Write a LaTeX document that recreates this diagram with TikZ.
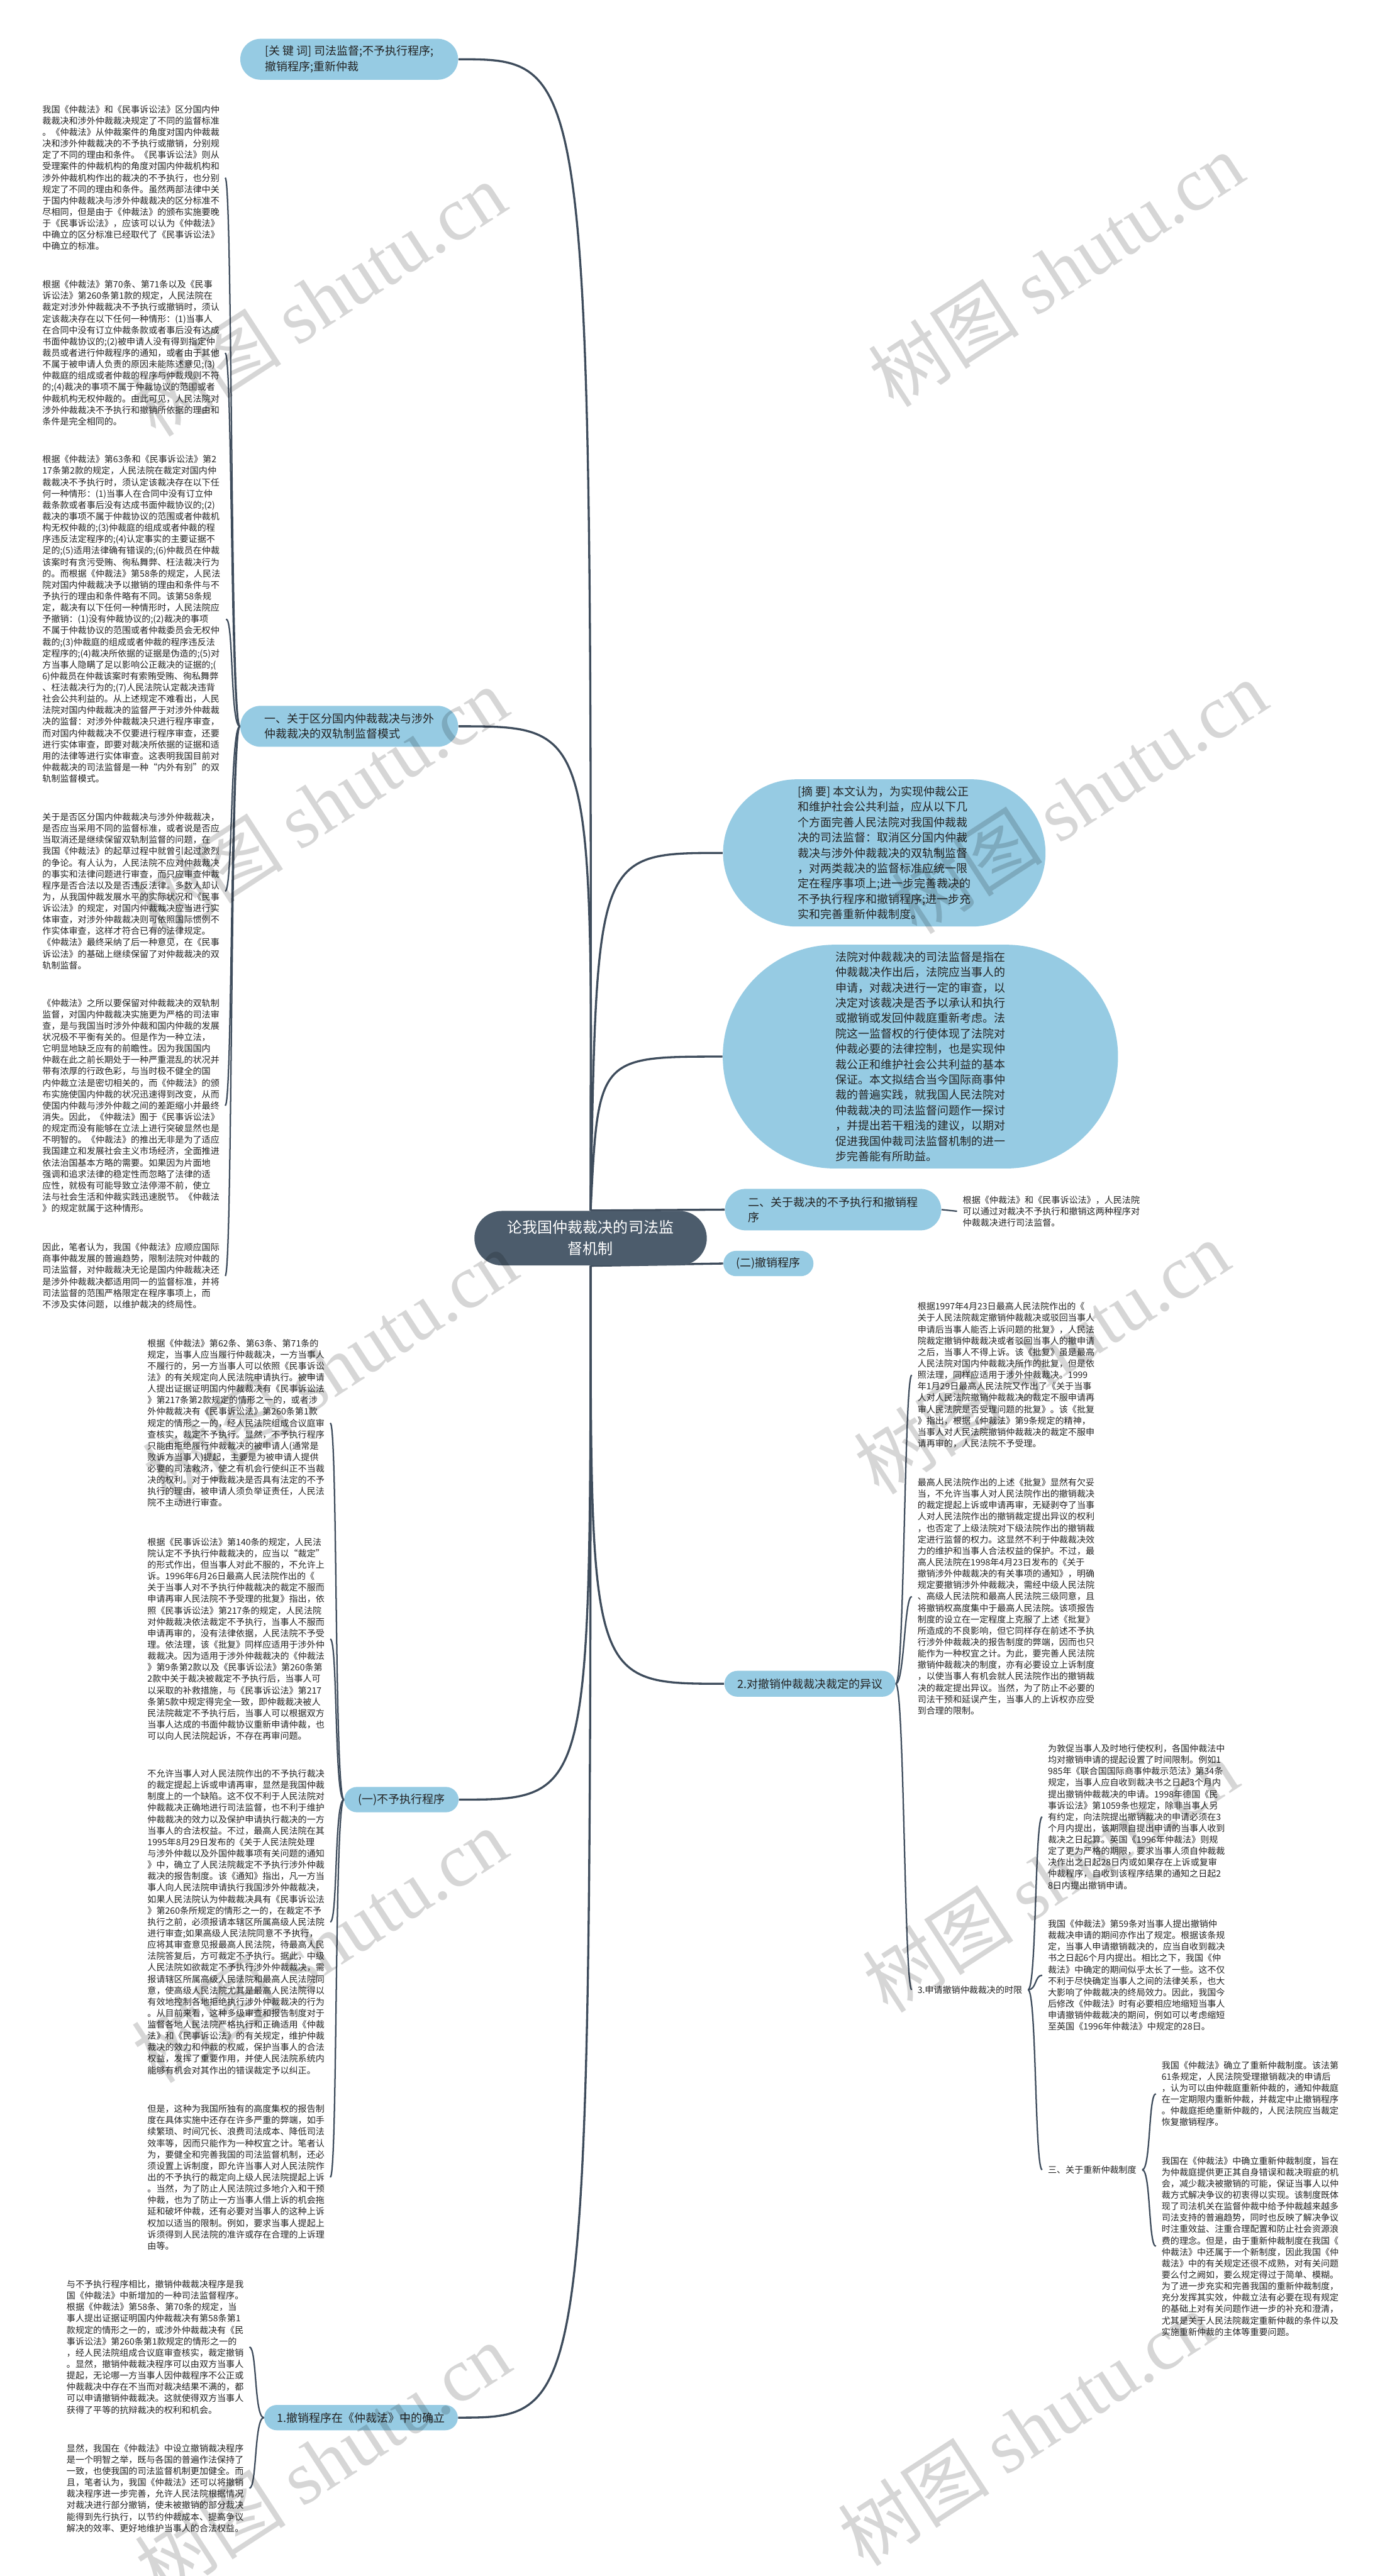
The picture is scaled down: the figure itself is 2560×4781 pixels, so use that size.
\documentclass[tikz,border=0pt]{standalone}
\usepackage{fontspec}
\setmainfont{Noto Sans CJK SC}
\newfontfamily\wmlatin{Liberation Serif}
\usetikzlibrary{shapes.misc,backgrounds}
\definecolor{nodeblue}{RGB}{150,203,227}
\definecolor{rootcol}{RGB}{76,92,108}
\definecolor{linecol}{RGB}{62,76,92}
\definecolor{txtcol}{RGB}{35,35,35}
\newcommand\leaffont{\fontsize{4.67pt}{6.02pt}\selectfont}
\newcommand\topicfont{\fontsize{5.97pt}{8.1pt}\selectfont}
\newcommand\rootfont{\fontsize{7.97pt}{11.3pt}\selectfont}
\newcommand\wmfont{\fontsize{40pt}{44pt}\selectfont}
\tikzset{
  leaf/.style={font=\leaffont, align=left, inner xsep=0.1cm, inner ysep=0pt, text=txtcol},
  plainnode/.style={font=\leaffont, inner xsep=0.1cm, inner ysep=0pt, text=txtcol},
  topic/.style={rounded rectangle, fill=nodeblue, font=\topicfont, align=left, text=txtcol, inner xsep=0pt, inner ysep=0pt},
  rootbox/.style={rounded rectangle, fill=rootcol, font=\rootfont, align=center, text=white, inner sep=0pt},
  conn/.style={draw=linecol, line width=0.75pt},
  rconn/.style={draw=linecol, line width=1.1pt},
  wm/.style={font=\wmfont, text=black, opacity=0.16, rotate=33, inner sep=0pt},
}
\begin{document}
\begin{tikzpicture}[x=0.01cm,y=-0.01cm]
\begin{scope}[on background layer]
\fill[white] (0,0) rectangle (2560,4781);
\end{scope}
\useasboundingbox (0,0) rectangle (2560,4781);

% ---------- root and topic nodes ----------
\node[rootbox, minimum width=4.31cm, minimum height=1.01cm] (root) at (1096,2298) {论我国仲裁裁决的司法监\\督机制};
\node[topic, minimum width=4.04cm, minimum height=0.76cm] (kw) at (648,110) {[关 键 词] 司法监督;不予执行程序;\\撤销程序;重新仲裁};
\node[topic, minimum width=4.04cm, minimum height=0.76cm] (n1) at (648,1348) {一、关于区分国内仲裁裁决与涉外\\仲裁裁决的双轨制监督模式};
\node[topic, minimum width=5.98cm, minimum height=2.73cm] (ab) at (1641,1583) {[摘 要] 本文认为，为实现仲裁公正\\和维护社会公共利益，应从以下几\\个方面完善人民法院对我国仲裁裁\\决的司法监督：取消区分国内仲裁\\裁决与涉外仲裁裁决的双轨制监督\\，对两类裁决的监督标准应统一限\\定在程序事项上;进一步完善裁决的\\不予执行程序和撤销程序;进一步充\\实和完善重新仲裁制度。};
\node[topic, minimum width=7.33cm, minimum height=4.15cm] (intro) at (1708,1961) {法院对仲裁裁决的司法监督是指在\\仲裁裁决作出后，法院应当事人的\\申请，对裁决进行一定的审查，以\\决定对该裁决是否予以承认和执行\\或撤销或发回仲裁庭重新考虑。法\\院这一监督权的行使体现了法院对\\仲裁必要的法律控制，也是实现仲\\裁公正和维护社会公共利益的基本\\保证。本文拟结合当今国际商事仲\\裁的普遍实践，就我国人民法院对\\仲裁裁决的司法监督问题作一探讨\\，并提出若干粗浅的建议，以期对\\促进我国仲裁司法监督机制的进一\\步完善能有所助益。};
\node[topic, minimum width=4.01cm, minimum height=0.77cm] (n2) at (1546,2245) {二、关于裁决的不予执行和撤销程\\序};
\node[topic, minimum width=1.67cm, minimum height=0.47cm] (s2) at (1426,2345) {(二)撤销程序};
\node[topic, minimum width=3.17cm, minimum height=0.48cm] (t2) at (1503,3125) {2.对撤销仲裁裁决裁定的异议};
\node[topic, minimum width=2.12cm, minimum height=0.47cm] (s1) at (745,3340) {(一)不予执行程序};
\node[topic, minimum width=3.59cm, minimum height=0.47cm] (t1) at (670,4487) {1.撤销程序在《仲裁法》中的确立};
\node[plainnode, anchor=west] (t3) at (1692,3693) {3.申请撤销仲裁裁决的时限};
\node[plainnode, anchor=west] (t4) at (1934,4027) {三、关于重新仲裁制度};

% ---------- leaf texts, upper left ----------
\node[leaf, anchor=west] (b1) at (68,330) {我国《仲裁法》和《民事诉讼法》区分国内仲\\裁裁决和涉外仲裁裁决规定了不同的监督标准\\。《仲裁法》从仲裁案件的角度对国内仲裁裁\\决和涉外仲裁裁决的不予执行或撤销，分别规\\定了不同的理由和条件。《民事诉讼法》则从\\受理案件的仲裁机构的角度对国内仲裁机构和\\涉外仲裁机构作出的裁决的不予执行，也分别\\规定了不同的理由和条件。虽然两部法律中关\\于国内仲裁裁决与涉外仲裁裁决的区分标准不\\尽相同，但是由于《仲裁法》的颁布实施要晚\\于《民事诉讼法》，应该可以认为《仲裁法》\\中确立的区分标准已经取代了《民事诉讼法》\\中确立的标准。};
\node[leaf, anchor=west] (b2) at (68,655) {根据《仲裁法》第70条、第71条以及《民事\\诉讼法》第260条第1款的规定，人民法院在\\裁定对涉外仲裁裁决不予执行或撤销时，须认\\定该裁决存在以下任何一种情形：(1)当事人\\在合同中没有订立仲裁条款或者事后没有达成\\书面仲裁协议的;(2)被申请人没有得到指定仲\\裁员或者进行仲裁程序的通知，或者由于其他\\不属于被申请人负责的原因未能陈述意见;(3)\\仲裁庭的组成或者仲裁的程序与仲裁规则不符\\的;(4)裁决的事项不属于仲裁协议的范围或者\\仲裁机构无权仲裁的。由此可见，人民法院对\\涉外仲裁裁决不予执行和撤销所依据的理由和\\条件是完全相同的。};
\node[leaf, anchor=west] (b3) at (68,1149) {根据《仲裁法》第63条和《民事诉讼法》第2\\17条第2款的规定，人民法院在裁定对国内仲\\裁裁决不予执行时，须认定该裁决存在以下任\\何一种情形：(1)当事人在合同中没有订立仲\\裁条款或者事后没有达成书面仲裁协议的;(2)\\裁决的事项不属于仲裁协议的范围或者仲裁机\\构无权仲裁的;(3)仲裁庭的组成或者仲裁的程\\序违反法定程序的;(4)认定事实的主要证据不\\足的;(5)适用法律确有错误的;(6)仲裁员在仲裁\\该案时有贪污受贿、徇私舞弊、枉法裁决行为\\的。而根据《仲裁法》第58条的规定，人民法\\院对国内仲裁裁决予以撤销的理由和条件与不\\予执行的理由和条件略有不同。该第58条规\\定，裁决有以下任何一种情形时，人民法院应\\予撤销：(1)没有仲裁协议的;(2)裁决的事项\\不属于仲裁协议的范围或者仲裁委员会无权仲\\裁的;(3)仲裁庭的组成或者仲裁的程序违反法\\定程序的;(4)裁决所依据的证据是伪造的;(5)对\\方当事人隐瞒了足以影响公正裁决的证据的;(\\6)仲裁员在仲裁该案时有索贿受贿、徇私舞弊\\、枉法裁决行为的;(7)人民法院认定裁决违背\\社会公共利益的。从上述规定不难看出，人民\\法院对国内仲裁裁决的监督严于对涉外仲裁裁\\决的监督：对涉外仲裁裁决只进行程序审查，\\而对国内仲裁裁决不仅要进行程序审查，还要\\进行实体审查，即要对裁决所依据的证据和适\\用的法律等进行实体审查。这表明我国目前对\\仲裁裁决的司法监督是一种“内外有别”的双\\轨制监督模式。};
\node[leaf, anchor=west] (b4) at (68,1654) {关于是否区分国内仲裁裁决与涉外仲裁裁决，\\是否应当采用不同的监督标准，或者说是否应\\当取消还是继续保留双轨制监督的问题，在\\我国《仲裁法》的起草过程中就曾引起过激烈\\的争论。有人认为，人民法院不应对仲裁裁决\\的事实和法律问题进行审查，而只应审查仲裁\\程序是否合法以及是否违反法律。多数人却认\\为，从我国仲裁发展水平的实际状况和《民事\\诉讼法》的规定，对国内仲裁裁决应当进行实\\体审查，对涉外仲裁裁决则可依照国际惯例不\\作实体审查，这样才符合已有的法律规定。\\《仲裁法》最终采纳了后一种意见，在《民事\\诉讼法》的基础上继续保留了对仲裁裁决的双\\轨制监督。};
\node[leaf, anchor=west] (b5) at (68,2052) {《仲裁法》之所以要保留对仲裁裁决的双轨制\\监督，对国内仲裁裁决实施更为严格的司法审\\查，是与我国当时涉外仲裁和国内仲裁的发展\\状况极不平衡有关的。但是作为一种立法，\\它明显地缺乏应有的前瞻性。因为我国国内\\仲裁在此之前长期处于一种严重混乱的状况并\\带有浓厚的行政色彩，与当时极不健全的国\\内仲裁立法是密切相关的，而《仲裁法》的颁\\布实施使国内仲裁的状况迅速得到改变，从而\\使国内仲裁与涉外仲裁之间的差距缩小并最终\\消失。因此，《仲裁法》囿于《民事诉讼法》\\的规定而没有能够在立法上进行突破显然也是\\不明智的。《仲裁法》的推出无非是为了适应\\我国建立和发展社会主义市场经济，全面推进\\依法治国基本方略的需要。如果因为片面地\\强调和追求法律的稳定性而忽略了法律的适\\应性，就极有可能导致立法停滞不前，使立\\法与社会生活和仲裁实践迅速脱节。《仲裁法\\》的规定就属于这种情形。};
\node[leaf, anchor=west] (b6) at (68,2368) {因此，笔者认为，我国《仲裁法》应顺应国际\\商事仲裁发展的普遍趋势，限制法院对仲裁的\\司法监督，对仲裁裁决无论是国内仲裁裁决还\\是涉外仲裁裁决都适用同一的监督标准，并将\\司法监督的范围严格限定在程序事项上，而\\不涉及实体问题，以维护裁决的终局性。};

% ---------- leaf texts, lower left ----------
\node[leaf, anchor=west] (l1) at (263,2641) {根据《仲裁法》第62条、第63条、第71条的\\规定，当事人应当履行仲裁裁决，一方当事人\\不履行的，另一方当事人可以依照《民事诉讼\\法》的有关规定向人民法院申请执行。被申请\\人提出证据证明国内仲裁裁决有《民事诉讼法\\》第217条第2款规定的情形之一的，或者涉\\外仲裁裁决有《民事诉讼法》第260条第1款\\规定的情形之一的，经人民法院组成合议庭审\\查核实，裁定不予执行。显然，不予执行程序\\只能由拒绝履行仲裁裁决的被申请人(通常是\\败诉方当事人)提起，主要是为被申请人提供\\必要的司法救济，使之有机会行使纠正不当裁\\决的权利。对于仲裁裁决是否具有法定的不予\\执行的理由，被申请人须负举证责任，人民法\\院不主动进行审查。};
\node[leaf, anchor=west] (l2) at (263,3042) {根据《民事诉讼法》第140条的规定，人民法\\院认定不予执行仲裁裁决的，应当以“裁定”\\的形式作出，但当事人对此不服的，不允许上\\诉。1996年6月26日最高人民法院作出的《\\关于当事人对不予执行仲裁裁决的裁定不服而\\申请再审人民法院不予受理的批复》指出，依\\照《民事诉讼法》第217条的规定，人民法院\\对仲裁裁决依法裁定不予执行，当事人不服而\\申请再审的，没有法律依据，人民法院不予受\\理。依法理，该《批复》同样应适用于涉外仲\\裁裁决。因为适用于涉外仲裁裁决的《仲裁法\\》第9条第2款以及《民事诉讼法》第260条第\\2款中关于裁决被裁定不予执行后，当事人可\\以采取的补救措施，与《民事诉讼法》第217\\条第5款中规定得完全一致，即仲裁裁决被人\\民法院裁定不予执行后，当事人可以根据双方\\当事人达成的书面仲裁协议重新申请仲裁，也\\可以向人民法院起诉，不存在再审问题。};
\node[leaf, anchor=west] (l3) at (263,3567) {不允许当事人对人民法院作出的不予执行裁决\\的裁定提起上诉或申请再审，显然是我国仲裁\\制度上的一个缺陷。这不仅不利于人民法院对\\仲裁裁决正确地进行司法监督，也不利于维护\\仲裁裁决的效力以及保护申请执行裁决的一方\\当事人的合法权益。不过，最高人民法院在其\\1995年8月29日发布的《关于人民法院处理\\与涉外仲裁以及外国仲裁事项有关问题的通知\\》中，确立了人民法院裁定不予执行涉外仲裁\\裁决的报告制度。该《通知》指出，凡一方当\\事人向人民法院申请执行我国涉外仲裁裁决，\\如果人民法院认为仲裁裁决具有《民事诉讼法\\》第260条所规定的情形之一的，在裁定不予\\执行之前，必须报请本辖区所属高级人民法院\\进行审查;如果高级人民法院同意不予执行，\\应将其审查意见报最高人民法院，待最高人民\\法院答复后，方可裁定不予执行。据此，中级\\人民法院如欲裁定不予执行涉外仲裁裁决，需\\报请辖区所属高级人民法院和最高人民法院同\\意，使高级人民法院尤其是最高人民法院得以\\有效地控制各地拒绝执行涉外仲裁裁决的行为\\。从目前来看，这种多级审查和报告制度对于\\监督各地人民法院严格执行和正确适用《仲裁\\法》和《民事诉讼法》的有关规定，维护仲裁\\裁决的效力和仲裁的权威，保护当事人的合法\\权益，发挥了重要作用，并使人民法院系统内\\能够有机会对其作出的错误裁定予以纠正。};
\node[leaf, anchor=west] (l4) at (263,4041) {但是，这种为我国所独有的高度集权的报告制\\度在具体实施中还存在许多严重的弊端，如手\\续繁琐、时间冗长、浪费司法成本、降低司法\\效率等，因而只能作为一种权宜之计。笔者认\\为，要健全和完善我国的司法监督机制，还必\\须设置上诉制度，即允许当事人对人民法院作\\出的不予执行的裁定向上级人民法院提起上诉\\。当然，为了防止人民法院过多地介入和干预\\仲裁，也为了防止一方当事人借上诉的机会拖\\延和破坏仲裁，还有必要对当事人的这种上诉\\权加以适当的限制。例如，要求当事人提起上\\诉须得到人民法院的准许或存在合理的上诉理\\由等。};
\node[leaf, anchor=west] (l5) at (113,4356) {与不予执行程序相比，撤销仲裁裁决程序是我\\国《仲裁法》中新增加的一种司法监督程序。\\根据《仲裁法》第58条、第70条的规定，当\\事人提出证据证明国内仲裁裁决有第58条第1\\款规定的情形之一的，或涉外仲裁裁决有《民\\事诉讼法》第260条第1款规定的情形之一的\\，经人民法院组成合议庭审查核实，裁定撤销\\。显然，撤销仲裁裁决程序可以由双方当事人\\提起，无论哪一方当事人因仲裁程序不公正或\\仲裁裁决中存在不当而对裁决结果不满的，都\\可以申请撤销仲裁裁决。这就使得双方当事人\\获得了平等的抗辩裁决的权利和机会。};
\node[leaf, anchor=west] (l6) at (113,4618) {显然，我国在《仲裁法》中设立撤销裁决程序\\是一个明智之举，既与各国的普遍作法保持了\\一致，也使我国的司法监督机制更加健全。而\\且，笔者认为，我国《仲裁法》还可以将撤销\\裁决程序进一步完善，允许人民法院根据情况\\对裁决进行部分撤销，使未被撤销的部分裁决\\能得到先行执行，以节约仲裁成本、提高争议\\解决的效率、更好地维护当事人的合法权益。};

% ---------- leaf texts, right ----------
\node[leaf, anchor=west] (lf2) at (1776,2248) {根据《仲裁法》和《民事诉讼法》，人民法院\\可以通过对裁决不予执行和撤销这两种程序对\\仲裁裁决进行司法监督。};
\node[leaf, anchor=west] (r1) at (1692,2552) {根据1997年4月23日最高人民法院作出的《\\关于人民法院裁定撤销仲裁裁决或驳回当事人\\申请后当事人能否上诉问题的批复》，人民法\\院裁定撤销仲裁裁决或者驳回当事人的撤申请\\之后，当事人不得上诉。该《批复》虽是最高\\人民法院对国内仲裁裁决所作的批复，但是依\\照法理，同样应适用于涉外仲裁裁决。1999\\年1月29日最高人民法院又作出了《关于当事\\人对人民法院撤销仲裁裁决的裁定不服申请再\\审人民法院是否受理问题的批复》。该《批复\\》指出，根据《仲裁法》第9条规定的精神，\\当事人对人民法院撤销仲裁裁决的裁定不服申\\请再审的，人民法院不予受理。};
\node[leaf, anchor=west] (r2) at (1692,2963) {最高人民法院作出的上述《批复》显然有欠妥\\当，不允许当事人对人民法院作出的撤销裁决\\的裁定提起上诉或申请再审，无疑剥夺了当事\\人对人民法院作出的撤销裁定提出异议的权利\\，也否定了上级法院对下级法院作出的撤销裁\\定进行监督的权力。这显然不利于仲裁裁决效\\力的维护和当事人合法权益的保护。不过，最\\高人民法院在1998年4月23日发布的《关于\\撤销涉外仲裁裁决的有关事项的通知》，明确\\规定要撤销涉外仲裁裁决，需经中级人民法院\\、高级人民法院和最高人民法院三级同意，且\\将撤销权高度集中于最高人民法院。该项报告\\制度的设立在一定程度上克服了上述《批复》\\所造成的不良影响，但它同样存在前述不予执\\行涉外仲裁裁决的报告制度的弊端，因而也只\\能作为一种权宜之计。为此，要完善人民法院\\撤销仲裁裁决的制度，亦有必要设立上诉制度\\，以使当事人有机会就人民法院作出的撤销裁\\决的裁定提出异议。当然，为了防止不必要的\\司法干预和延误产生，当事人的上诉权亦应受\\到合理的限制。};
\node[leaf, anchor=west] (r3) at (1934,3372) {为敦促当事人及时地行使权利，各国仲裁法中\\均对撤销申请的提起设置了时间限制。例如1\\985年《联合国国际商事仲裁示范法》第34条\\规定，当事人应自收到裁决书之日起3个月内\\提出撤销仲裁裁决的申请。1998年德国《民\\事诉讼法》第1059条也规定，除非当事人另\\有约定，向法院提出撤销裁决的申请必须在3\\个月内提出，该期限自提出申请的当事人收到\\裁决之日起算。英国《1996年仲裁法》则规\\定了更为严格的期限，要求当事人须自仲裁裁\\决作出之日起28日内或如果存在上诉或复审\\仲裁程序，自收到该程序结果的通知之日起2\\8日内提出撤销申请。};
\node[leaf, anchor=west] (r4) at (1934,3666) {我国《仲裁法》第59条对当事人提出撤销仲\\裁裁决申请的期间亦作出了规定。根据该条规\\定，当事人申请撤销裁决的，应当自收到裁决\\书之日起6个月内提出。相比之下，我国《仲\\裁法》中确定的期间似乎太长了一些。这不仅\\不利于尽快确定当事人之间的法律关系，也大\\大影响了仲裁裁决的终局效力。因此，我国今\\后修改《仲裁法》时有必要相应地缩短当事人\\申请撤销仲裁裁决的期间，例如可以考虑缩短\\至英国《1996年仲裁法》中规定的28日。};
\node[leaf, anchor=west] (r5) at (2145,3886) {我国《仲裁法》确立了重新仲裁制度。该法第\\61条规定，人民法院受理撤销裁决的申请后\\，认为可以由仲裁庭重新仲裁的，通知仲裁庭\\在一定期限内重新仲裁，并裁定中止撤销程序\\。仲裁庭拒绝重新仲裁的，人民法院应当裁定\\恢复撤销程序。};
\node[leaf, anchor=west] (r6) at (2145,4169) {我国在《仲裁法》中确立重新仲裁制度，旨在\\为仲裁庭提供更正其自身错误和裁决瑕疵的机\\会，减少裁决被撤销的可能，保证当事人以仲\\裁方式解决争议的初衷得以实现。该制度既体\\现了司法机关在监督仲裁中给予仲裁越来越多\\司法支持的普遍趋势，同时也反映了解决争议\\时注重效益、注重合理配置和防止社会资源浪\\费的理念。但是，由于重新仲裁制度在我国《\\仲裁法》中还属于一个新制度，因此我国《仲\\裁法》中的有关规定还很不成熟，对有关问题\\要么付之阙如，要么规定得过于简单、模糊。\\为了进一步充实和完善我国的重新仲裁制度，\\充分发挥其实效，仲裁立法有必要在现有规定\\的基础上对有关问题作进一步的补充和澄清，\\尤其是关于人民法院裁定重新仲裁的条件以及\\实施重新仲裁的主体等重要问题。};

% ---------- root connectors (behind root) ----------
\begin{scope}[on background layer]
\draw[rconn] (root.north) .. controls (1098,110) .. (kw.east);
\draw[rconn] (root.north) .. controls (1100,1348) .. (n1.east);
\draw[rconn] (root.north) .. controls (1107,1583) .. (ab.west);
\draw[rconn] (root.north) .. controls (1110,1961) .. (intro.west);
\draw[rconn] (root.north) -- (n2.west);
\draw[rconn] (root.south) -- (s2.west);
\draw[rconn] (root.south) .. controls (1096,3125) .. (t2.west);
\draw[rconn] (root.south) .. controls (1096,3340) .. (s1.east);
\draw[rconn] (root.south) .. controls (1096,4487) .. (t1.east);
\end{scope}

% ---------- child connectors ----------
\foreach \c in {b1,b2,b3,b4,b5,b6}
  \draw[conn] (n1.west) .. controls +(-18,0) and +(14,0) .. (\c.east);
\foreach \c in {l1,l2,l3,l4}
  \draw[conn] (s1.west) .. controls +(-18,0) and +(14,0) .. (\c.east);
\foreach \c in {l5,l6}
  \draw[conn] (t1.west) .. controls +(-18,0) and +(14,0) .. (\c.east);
\draw[conn] (n2.east) -- (lf2.west);
\foreach \c in {r1,r2,t3}
  \draw[conn] (t2.east) .. controls +(16,0) and +(-14,0) .. (\c.west);
\foreach \c in {r3,r4,t4}
  \draw[conn] (t3.east) .. controls +(16,0) and +(-14,0) .. (\c.west);
\foreach \c in {r5,r6}
  \draw[conn] (t4.east) .. controls +(16,0) and +(-14,0) .. (\c.west);

% ---------- watermark ----------
\foreach \p/\q [count=\i] in {590/555, 594/1492, 612/2537, 593/3611, 599/4566, 1960/500, 2003/1479, 1933/2519, 1949/3481, 1904/4507}
  \node[wm] (wm\i) at (\p,\q) {树图 {\wmlatin shutu.cn}};
\end{tikzpicture}
\end{document}
